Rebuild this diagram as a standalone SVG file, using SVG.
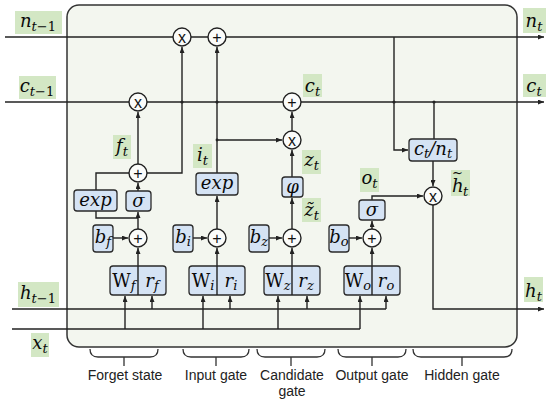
<svg xmlns="http://www.w3.org/2000/svg" width="550" height="404" viewBox="0 0 550 404">
<defs>
<marker id="ah" viewBox="0 0 6 5" refX="6" refY="2.5" markerWidth="6" markerHeight="5" orient="auto" markerUnits="userSpaceOnUse">
<path d="M0,0 L6,2.5 L0,5 z" fill="#222"/>
</marker>
<style>
.ln{fill:none;stroke:#222;stroke-width:1.4}
.ar{marker-end:url(#ah)}
.op{fill:#fbfcfa;stroke:#222;stroke-width:1.4}
.bx{fill:#d5e3f4;stroke:#2a2a2a;stroke-width:1.3}
.lb{fill:#d3e7c4}
.m{font-family:"DejaVu Serif",serif;font-style:italic;font-size:18px;fill:#0a0a0a;text-anchor:middle}
.s{font-size:13px}
.u{font-style:normal}
.sym{font-family:"Liberation Sans",Arial,sans-serif;font-size:16px;fill:#111;text-anchor:middle}
.g{font-family:"Liberation Sans",Arial,sans-serif;font-size:14px;fill:#222;text-anchor:middle}
.br{fill:none;stroke:#333;stroke-width:1.3}
</style>
</defs>
<rect x="67" y="5" width="450" height="342" rx="12" fill="#f3f6ef" stroke="#333" stroke-width="1.5"/>

<g id="connectors">
<path class="ln ar" d="M5,37 H544"/>
<path class="ln ar" d="M5,102 H544"/>
<path class="ln" d="M12,309 H386"/>
<path class="ln" d="M12,329 H360"/>
<path class="ln ar" d="M125,329 V296"/>
<path class="ln ar" d="M152,309 V296"/>
<path class="ln ar" d="M203,329 V296"/>
<path class="ln ar" d="M230,309 V296"/>
<path class="ln ar" d="M278,329 V296"/>
<path class="ln ar" d="M307,309 V296"/>
<path class="ln ar" d="M360,329 V296"/>
<path class="ln ar" d="M386,309 V296"/>
<path class="ln ar" d="M113,238 H128"/>
<path class="ln ar" d="M138,266 V248"/>
<path class="ln ar" d="M138,229 V212"/>
<path class="ln" d="M138,218 H96 V211"/>
<path class="ln ar" d="M138,191 V183"/>
<path class="ln" d="M96,190 V173 H129"/>
<path class="ln ar" d="M138,164 V112"/>
<path class="ln ar" d="M147,173 H182 V47"/>
<path class="ln ar" d="M193,238 H207"/>
<path class="ln ar" d="M217,266 V248"/>
<path class="ln ar" d="M217,229 V196"/>
<path class="ln ar" d="M217,173 V47"/>
<path class="ln ar" d="M217,140 H282"/>
<path class="ln ar" d="M269,238 H282"/>
<path class="ln ar" d="M292,266 V248"/>
<path class="ln ar" d="M292,229 V198"/>
<path class="ln ar" d="M292,177 V150"/>
<path class="ln ar" d="M292,131 V112"/>
<path class="ln ar" d="M349,238 H362"/>
<path class="ln ar" d="M372,266 V248"/>
<path class="ln ar" d="M372,229 V221"/>
<path class="ln ar" d="M372,200 V196 H423"/>
<path class="ln ar" d="M394,37 V150 H408"/>
<path class="ln" d="M434,102 V139"/>
<path class="ln ar" d="M433,161 V186"/>
<path class="ln ar" d="M433,205 V309 H544"/>
<g fill="#222">
<circle cx="182" cy="102" r="1.6"/>
<circle cx="217" cy="102" r="1.6"/>
<circle cx="394" cy="102" r="1.6"/>
<circle cx="434" cy="102" r="1.6"/>
<circle cx="217" cy="140" r="1.4"/>
</g>
</g>

<g id="mul_n"><circle class="op" cx="182" cy="37" r="9"/><text class="sym" x="182" y="42.5">x</text></g>
<g id="add_n"><circle class="op" cx="217" cy="37" r="9"/><text class="sym" x="217" y="42.5">+</text></g>
<g id="mul_c"><circle class="op" cx="138" cy="102" r="9"/><text class="sym" x="138" y="107.5">x</text></g>
<g id="add_c"><circle class="op" cx="292" cy="102" r="9"/><text class="sym" x="292" y="107.5">+</text></g>
<g id="add_f"><circle class="op" cx="138" cy="173" r="9"/><text class="sym" x="138" y="178.5">+</text></g>
<g id="mul_z"><circle class="op" cx="292" cy="140" r="9"/><text class="sym" x="292" y="145.5">x</text></g>
<g id="mul_h"><circle class="op" cx="433" cy="196" r="9"/><text class="sym" x="433" y="201.5">x</text></g>
<g id="add_bf"><circle class="op" cx="138" cy="238" r="9"/><text class="sym" x="138" y="243.5">+</text></g>
<g id="add_bi"><circle class="op" cx="217" cy="238" r="9"/><text class="sym" x="217" y="243.5">+</text></g>
<g id="add_bz"><circle class="op" cx="292" cy="238" r="9"/><text class="sym" x="292" y="243.5">+</text></g>
<g id="add_bo"><circle class="op" cx="372" cy="238" r="9"/><text class="sym" x="372" y="243.5">+</text></g>

<g id="Wf"><rect class="bx" x="110" y="266" width="56" height="29" rx="3"/><line class="ln" x1="138" y1="266" x2="138" y2="295"/>
<text class="m" x="124" y="287"><tspan class="u">W</tspan><tspan class="s" dy="3">f</tspan></text>
<text class="m" x="152" y="287">r<tspan class="s" dy="3">f</tspan></text></g>
<g id="Wi"><rect class="bx" x="189" y="266" width="56" height="29" rx="3"/><line class="ln" x1="217" y1="266" x2="217" y2="295"/>
<text class="m" x="203" y="287"><tspan class="u">W</tspan><tspan class="s" dy="3">i</tspan></text>
<text class="m" x="231" y="287">r<tspan class="s" dy="3">i</tspan></text></g>
<g id="Wz"><rect class="bx" x="264" y="266" width="56" height="29" rx="3"/><line class="ln" x1="292" y1="266" x2="292" y2="295"/>
<text class="m" x="278" y="287"><tspan class="u">W</tspan><tspan class="s" dy="3">z</tspan></text>
<text class="m" x="306" y="287">r<tspan class="s" dy="3">z</tspan></text></g>
<g id="Wo"><rect class="bx" x="344" y="266" width="56" height="29" rx="3"/><line class="ln" x1="372" y1="266" x2="372" y2="295"/>
<text class="m" x="358" y="287"><tspan class="u">W</tspan><tspan class="s" dy="3">o</tspan></text>
<text class="m" x="386" y="287">r<tspan class="s" dy="3">o</tspan></text></g>

<g id="bf"><rect class="bx" x="93" y="225" width="20" height="27" rx="3"/><text class="m" x="103" y="243">b<tspan class="s" dy="3">f</tspan></text></g>
<g id="bi"><rect class="bx" x="173" y="225" width="20" height="27" rx="3"/><text class="m" x="183" y="243">b<tspan class="s" dy="3">i</tspan></text></g>
<g id="bz"><rect class="bx" x="249" y="225" width="20" height="27" rx="3"/><text class="m" x="259" y="243">b<tspan class="s" dy="3">z</tspan></text></g>
<g id="bo"><rect class="bx" x="329" y="225" width="20" height="27" rx="3"/><text class="m" x="339" y="243">b<tspan class="s" dy="3">o</tspan></text></g>

<g id="exp_f"><rect class="bx" x="74" y="190" width="43" height="21" rx="3"/><text class="m" x="95.5" y="205.5">exp</text></g>
<g id="sig_f"><rect class="bx" x="126" y="191" width="25" height="20" rx="3"/><text class="m" x="138.5" y="206.5">σ</text></g>
<g id="exp_i"><rect class="bx" x="196" y="173" width="42" height="22" rx="3"/><text class="m" x="217" y="189">exp</text></g>
<g id="phi"><rect class="bx" x="282" y="177" width="21" height="20" rx="3"/><text class="m" x="292.5" y="192.5">φ</text></g>
<g id="sig_o"><rect class="bx" x="359" y="200" width="26" height="20" rx="3"/><text class="m" x="372" y="215.5">σ</text></g>
<g id="ratio"><rect class="bx" x="409" y="139" width="48" height="22" rx="3"/><text class="m" x="433" y="155">c<tspan class="s" dy="3">t</tspan><tspan dy="-3">/n</tspan><tspan class="s" dy="3">t</tspan></text></g>

<g id="labels">
<rect class="lb" x="15" y="11" width="47" height="23"/><text class="m" x="38" y="27">n<tspan class="s" dy="4">t</tspan><tspan class="s u">−1</tspan></text>
<rect class="lb" x="19" y="76" width="37" height="23"/><text class="m" x="37" y="92">c<tspan class="s" dy="4">t</tspan><tspan class="s u">−1</tspan></text>
<rect class="lb" x="18" y="282" width="41" height="25"/><text class="m" x="38" y="299">h<tspan class="s" dy="4">t</tspan><tspan class="s u">−1</tspan></text>
<rect class="lb" x="31" y="333" width="18" height="24"/><text class="m" x="40" y="349">x<tspan class="s" dy="4">t</tspan></text>
<rect class="lb" x="523" y="8" width="23" height="25"/><text class="m" x="534" y="27">n<tspan class="s" dy="4">t</tspan></text>
<rect class="lb" x="523" y="74" width="23" height="23"/><text class="m" x="534" y="92">c<tspan class="s" dy="4">t</tspan></text>
<rect class="lb" x="524" y="277" width="19" height="25"/><text class="m" x="533.5" y="297">h<tspan class="s" dy="4">t</tspan></text>
<rect class="lb" x="303" y="74" width="19" height="23"/><text class="m" x="312.5" y="92">c<tspan class="s" dy="4">t</tspan></text>
<rect class="lb" x="113" y="135" width="18" height="24"/><text class="m" x="122" y="152">f<tspan class="s" dy="4">t</tspan></text>
<rect class="lb" x="193" y="144" width="19" height="24"/><text class="m" x="202.5" y="161">i<tspan class="s" dy="4">t</tspan></text>
<rect class="lb" x="302" y="150" width="19" height="24"/><text class="m" x="311.5" y="166">z<tspan class="s" dy="4">t</tspan></text>
<rect class="lb" x="302" y="198" width="19" height="24"/><text class="m" x="311.5" y="216">z̃<tspan class="s" dy="4">t</tspan></text>
<rect class="lb" x="360" y="168" width="19" height="24"/><text class="m" x="369.5" y="184">o<tspan class="s" dy="4">t</tspan></text>
<rect class="lb" x="451" y="170" width="19" height="26"/><text class="m" style="text-anchor:start"><tspan x="452" y="192">h</tspan><tspan x="452" y="176.5" style="font-size:13px;font-style:normal">~</tspan><tspan class="s" x="463" y="196">t</tspan></text>
</g>

<g id="braces">
<path class="br" d="M90,349 Q90,357 98,357 H150 Q158,357 158,349 M124,357 V366"/>
<path class="br" d="M183,349 Q183,357 191,357 H241 Q249,357 249,349 M216,357 V366"/>
<path class="br" d="M257,349 Q257,357 265,357 H317 Q325,357 325,349 M291,357 V366"/>
<path class="br" d="M338,349 Q338,357 346,357 H398 Q406,357 406,349 M372,357 V366"/>
<path class="br" d="M413,349 Q413,357 421,357 H504 Q512,357 512,349 M462,357 V366"/>
<text class="g" x="125" y="380">Forget state</text>
<text class="g" x="216" y="380">Input gate</text>
<text class="g" x="292" y="380">Candidate</text>
<text class="g" x="292" y="396">gate</text>
<text class="g" x="372" y="380">Output gate</text>
<text class="g" x="462" y="380">Hidden gate</text>
</g>
</svg>
